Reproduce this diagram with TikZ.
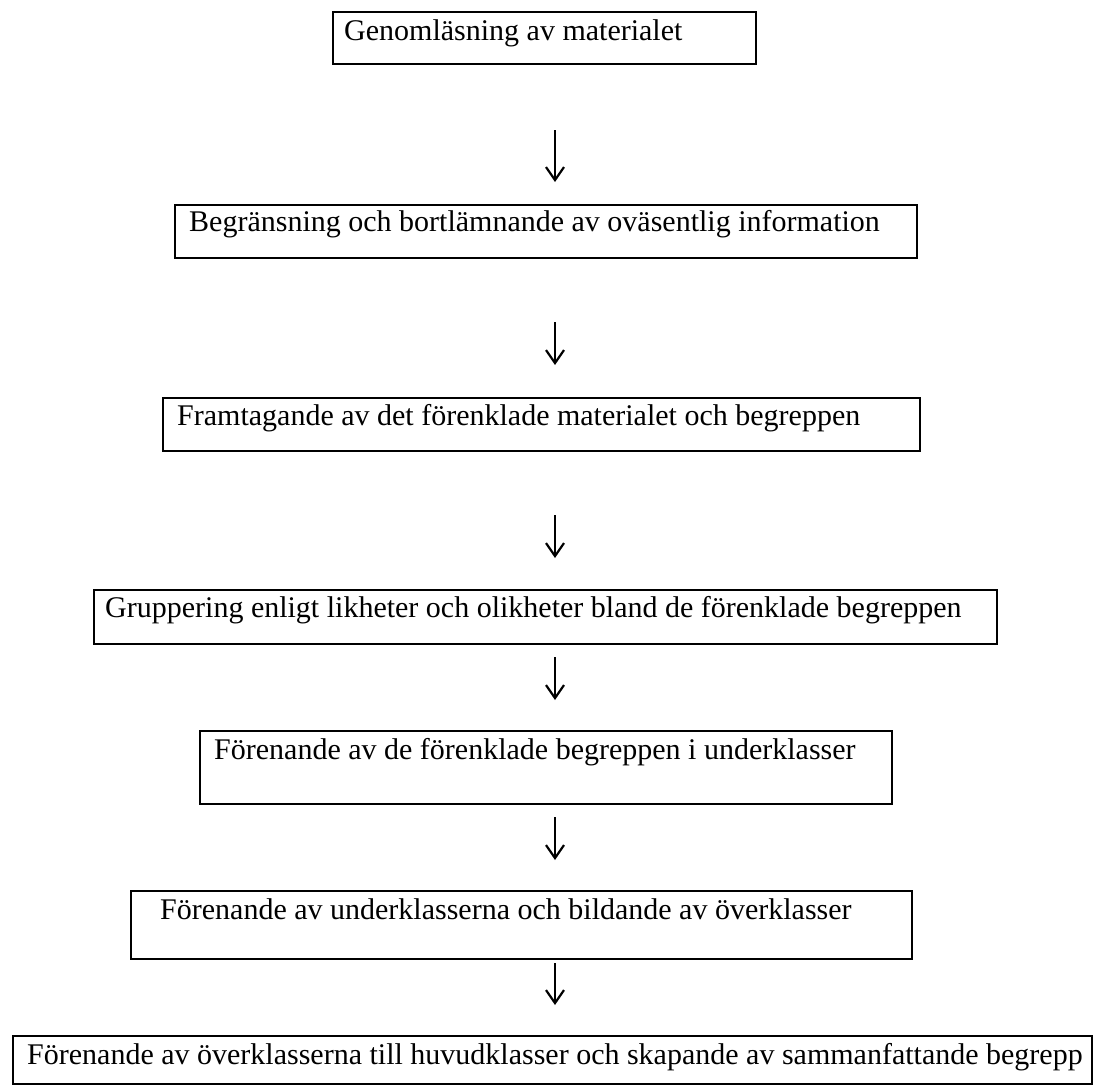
\documentclass[tikz,border=0pt]{standalone}
\usepackage{fontspec}
\setmainfont{Liberation Serif}
\usetikzlibrary{arrows.meta}
\tikzset{
  box/.style={draw, line width=2pt, anchor=north west, inner sep=0pt},
  lbl/.style={anchor=base west, inner sep=0pt, font=\fontsize{30}{36}\selectfont},
  arr/.style={line width=1.8pt, -{Straight Barb[length=13pt,width=18pt,line width=2.2pt]}}
}
\begin{document}
\begin{tikzpicture}[x=1pt,y=1pt]
\useasboundingbox (0,0) rectangle (1093,-1085);
% boxes
\node[box, minimum width=423, minimum height=52] (b1) at (332,-11) {};
\node[box, minimum width=742, minimum height=53] (b2) at (174,-204) {};
\node[box, minimum width=757, minimum height=53] (b3) at (162,-397) {};
\node[box, minimum width=903, minimum height=54] (b4) at (93,-589) {};
\node[box, minimum width=692, minimum height=73] (b5) at (199,-730) {};
\node[box, minimum width=781, minimum height=68] (b6) at (130,-890) {};
\node[box, minimum width=1079, minimum height=48] (b7) at (12,-1035) {};
% texts
\node[lbl] (t1) at (344,-40) {Genomläsning av materialet};
\node[lbl] (t2) at (189,-231) {Begränsning och bortlämnande av oväsentlig information};
\node[lbl] (t3) at (177,-425) {Framtagande av det förenklade materialet och begreppen};
\node[lbl] (t4) at (105,-617) {Gruppering enligt likheter och olikheter bland de förenklade begreppen};
\node[lbl] (t5) at (214,-759) {Förenande av de förenklade begreppen i underklasser};
\node[lbl] (t6) at (160,-919) {Förenande av underklasserna och bildande av överklasser};
\node[lbl] (t7) at (27,-1064) {Förenande av överklasserna till huvudklasser och skapande av sammanfattande begrepp};
% arrows
\coordinate (a1s) at (555,-130); \coordinate (a1e) at (555,-182);
\coordinate (a2s) at (555,-322); \coordinate (a2e) at (555,-365);
\coordinate (a3s) at (555,-515); \coordinate (a3e) at (555,-558);
\coordinate (a4s) at (555,-657); \coordinate (a4e) at (555,-700);
\coordinate (a5s) at (555,-817); \coordinate (a5e) at (555,-860);
\coordinate (a6s) at (555,-963); \coordinate (a6e) at (555,-1005);
\draw[arr] (a1s) -- (a1e);
\draw[arr] (a2s) -- (a2e);
\draw[arr] (a3s) -- (a3e);
\draw[arr] (a4s) -- (a4e);
\draw[arr] (a5s) -- (a5e);
\draw[arr] (a6s) -- (a6e);
\end{tikzpicture}
\end{document}
